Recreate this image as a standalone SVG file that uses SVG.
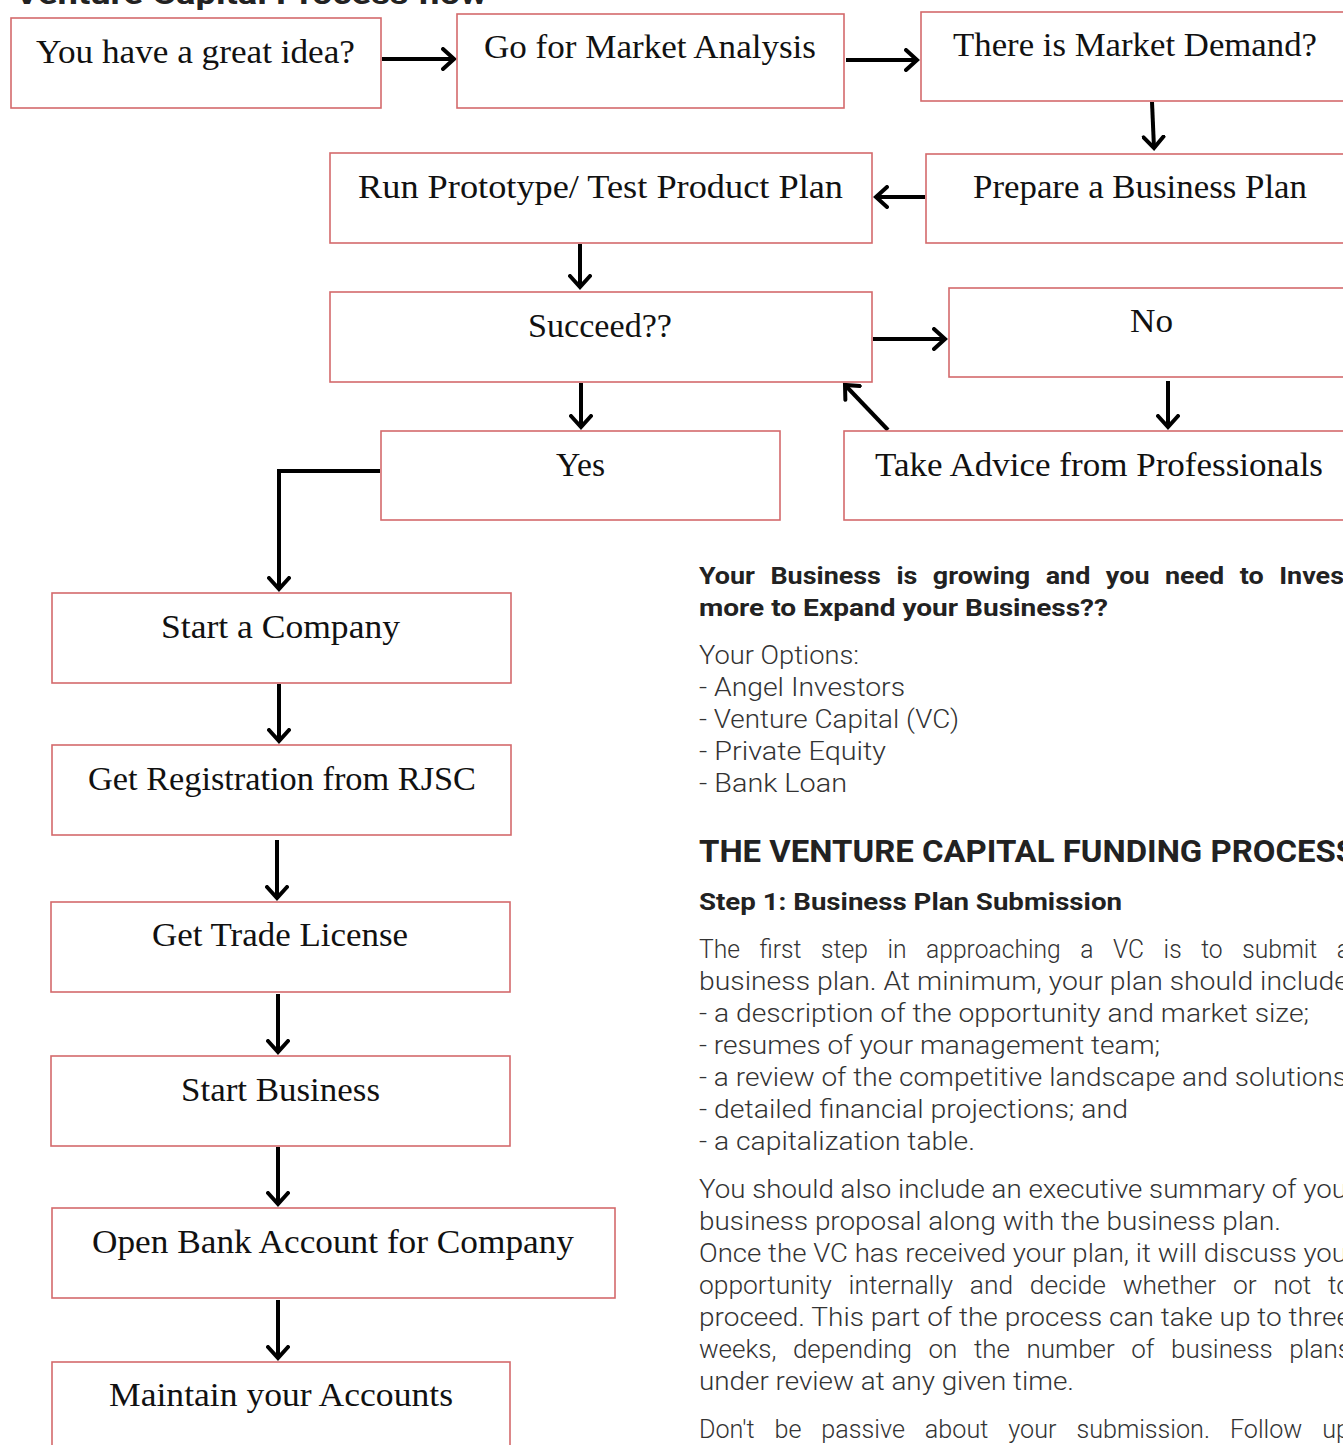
<svg xmlns="http://www.w3.org/2000/svg" width="1343" height="1445" viewBox="0 0 1343 1445">
<style>
.box{fill:#fff;stroke:#d46a6c;stroke-width:1.6}
.lbl{font-family:"Liberation Serif","Times New Roman",serif;font-size:34px;fill:#111}
.con{fill:none;stroke:#000;stroke-width:4}
.body{font-family:Roboto,"Liberation Sans",sans-serif;font-size:25.5px;fill:#333;font-weight:300}
.bold{font-family:Roboto,"Liberation Sans",sans-serif;font-weight:bold;fill:#222}
</style>
<defs>
<marker id="ah" viewBox="0 0 16 24" refX="13" refY="12" markerWidth="16" markerHeight="24" markerUnits="userSpaceOnUse" orient="auto">
<path d="M2,2 L13,12 L2,22" fill="none" stroke="#000" stroke-width="4" stroke-linecap="round" stroke-linejoin="miter"/>
</marker>
</defs>
<rect width="1343" height="1445" fill="#fff"/>
<text class="bold" x="15" y="4" font-size="30" textLength="472" lengthAdjust="spacingAndGlyphs">Venture Capital Process flow</text>

<g id="connectors">
<line class="con" x1="382" y1="59" x2="454" y2="59" marker-end="url(#ah)"/>
<line class="con" x1="846" y1="60" x2="917" y2="60" marker-end="url(#ah)"/>
<line class="con" x1="1152" y1="102" x2="1154" y2="148" marker-end="url(#ah)"/>
<line class="con" x1="925" y1="197" x2="876" y2="197" marker-end="url(#ah)"/>
<line class="con" x1="580" y1="244" x2="580" y2="287" marker-end="url(#ah)"/>
<line class="con" x1="873" y1="339" x2="945" y2="339" marker-end="url(#ah)"/>
<line class="con" x1="581" y1="383" x2="581" y2="427" marker-end="url(#ah)"/>
<line class="con" x1="1168" y1="381" x2="1168" y2="427" marker-end="url(#ah)"/>
<line class="con" x1="888" y1="430" x2="845" y2="385" marker-end="url(#ah)"/>
<polyline class="con" points="380,471 279,471 279,589" marker-end="url(#ah)"/>
<line class="con" x1="279" y1="684" x2="279" y2="741" marker-end="url(#ah)"/>
<line class="con" x1="277" y1="840" x2="277" y2="898" marker-end="url(#ah)"/>
<line class="con" x1="278" y1="994" x2="278" y2="1052" marker-end="url(#ah)"/>
<line class="con" x1="278" y1="1147" x2="278" y2="1204" marker-end="url(#ah)"/>
<line class="con" x1="278" y1="1300" x2="278" y2="1358" marker-end="url(#ah)"/>
</g>

<g id="n1"><rect class="box" x="11" y="18" width="370" height="90"/><text class="lbl" x="36" y="63" textLength="319" lengthAdjust="spacingAndGlyphs">You have a great idea?</text></g>
<g id="n2"><rect class="box" x="457" y="14" width="387" height="94"/><text class="lbl" x="484" y="58" textLength="332" lengthAdjust="spacingAndGlyphs">Go for Market Analysis</text></g>
<g id="n3"><rect class="box" x="921" y="12" width="430" height="89"/><text class="lbl" x="953" y="56" textLength="364" lengthAdjust="spacingAndGlyphs">There is Market Demand?</text></g>
<g id="n4"><rect class="box" x="926" y="154" width="425" height="89"/><text class="lbl" x="973" y="198" textLength="334" lengthAdjust="spacingAndGlyphs">Prepare a Business Plan</text></g>
<g id="n5"><rect class="box" x="330" y="153" width="542" height="90"/><text class="lbl" x="358" y="198" textLength="485" lengthAdjust="spacingAndGlyphs">Run Prototype/ Test Product Plan</text></g>
<g id="n6"><rect class="box" x="330" y="292" width="542" height="90"/><text class="lbl" x="528" y="337" textLength="144" lengthAdjust="spacingAndGlyphs">Succeed??</text></g>
<g id="n7"><rect class="box" x="949" y="288" width="402" height="89"/><text class="lbl" x="1130" y="332" textLength="43" lengthAdjust="spacingAndGlyphs">No</text></g>
<g id="n8"><rect class="box" x="844" y="431" width="507" height="89"/><text class="lbl" x="875" y="476" textLength="448" lengthAdjust="spacingAndGlyphs">Take Advice from Professionals</text></g>
<g id="n9"><rect class="box" x="381" y="431" width="399" height="89"/><text class="lbl" x="556" y="476" textLength="49" lengthAdjust="spacingAndGlyphs">Yes</text></g>
<g id="n10"><rect class="box" x="52" y="593" width="459" height="90"/><text class="lbl" x="161" y="638" textLength="239" lengthAdjust="spacingAndGlyphs">Start a Company</text></g>
<g id="n11"><rect class="box" x="52" y="745" width="459" height="90"/><text class="lbl" x="88" y="790" textLength="388" lengthAdjust="spacingAndGlyphs">Get Registration from RJSC</text></g>
<g id="n12"><rect class="box" x="51" y="902" width="459" height="90"/><text class="lbl" x="152" y="946" textLength="256" lengthAdjust="spacingAndGlyphs">Get Trade License</text></g>
<g id="n13"><rect class="box" x="51" y="1056" width="459" height="90"/><text class="lbl" x="181" y="1101" textLength="199" lengthAdjust="spacingAndGlyphs">Start Business</text></g>
<g id="n14"><rect class="box" x="52" y="1208" width="563" height="90"/><text class="lbl" x="92" y="1253" textLength="482" lengthAdjust="spacingAndGlyphs">Open Bank Account for Company</text></g>
<g id="n15"><rect class="box" x="52" y="1362" width="458" height="95"/><text class="lbl" x="109" y="1406" textLength="344" lengthAdjust="spacingAndGlyphs">Maintain your Accounts</text></g>

<g id="textcol">
<text class="bold" x="699" y="584" font-size="24.5" textLength="645" lengthAdjust="spacingAndGlyphs" word-spacing="8">Your Business is growing and you need to Inves</text>
<text class="bold" x="699" y="616" font-size="24.5" textLength="409" lengthAdjust="spacingAndGlyphs">more to Expand your Business??</text>
<text class="body" x="699" y="664" textLength="160" lengthAdjust="spacingAndGlyphs">Your Options:</text>
<text class="body" x="699" y="696" textLength="206" lengthAdjust="spacingAndGlyphs">- Angel Investors</text>
<text class="body" x="699" y="728" textLength="260" lengthAdjust="spacingAndGlyphs">- Venture Capital (VC)</text>
<text class="body" x="699" y="760" textLength="187" lengthAdjust="spacingAndGlyphs">- Private Equity</text>
<text class="body" x="699" y="792" textLength="148" lengthAdjust="spacingAndGlyphs">- Bank Loan</text>
<text class="bold" x="699" y="862" font-size="31" textLength="657" lengthAdjust="spacingAndGlyphs">THE VENTURE CAPITAL FUNDING PROCESS</text>
<text class="bold" x="699" y="910" font-size="24.5" textLength="423" lengthAdjust="spacingAndGlyphs">Step 1: Business Plan Submission</text>
<text class="body" x="699" y="958" textLength="651" lengthAdjust="spacingAndGlyphs" word-spacing="14">The first step in approaching a VC is to submit a</text>
<text class="body" x="699" y="990" textLength="650" lengthAdjust="spacingAndGlyphs">business plan. At minimum, your plan should include</text>
<text class="body" x="699" y="1022" textLength="610" lengthAdjust="spacingAndGlyphs">- a description of the opportunity and market size;</text>
<text class="body" x="699" y="1054" textLength="461" lengthAdjust="spacingAndGlyphs">- resumes of your management team;</text>
<text class="body" x="699" y="1086" textLength="648" lengthAdjust="spacingAndGlyphs">- a review of the competitive landscape and solutions</text>
<text class="body" x="699" y="1118" textLength="429" lengthAdjust="spacingAndGlyphs">- detailed financial projections; and</text>
<text class="body" x="699" y="1150" textLength="276" lengthAdjust="spacingAndGlyphs">- a capitalization table.</text>
<text class="body" x="699" y="1198" textLength="648" lengthAdjust="spacingAndGlyphs">You should also include an executive summary of you</text>
<text class="body" x="699" y="1230" textLength="582" lengthAdjust="spacingAndGlyphs">business proposal along with the business plan.</text>
<text class="body" x="699" y="1262" textLength="648" lengthAdjust="spacingAndGlyphs">Once the VC has received your plan, it will discuss you</text>
<text class="body" x="699" y="1294" textLength="652" lengthAdjust="spacingAndGlyphs" word-spacing="10">opportunity internally and decide whether or not to</text>
<text class="body" x="699" y="1326" textLength="652" lengthAdjust="spacingAndGlyphs">proceed. This part of the process can take up to three</text>
<text class="body" x="699" y="1358" textLength="652" lengthAdjust="spacingAndGlyphs" word-spacing="10">weeks, depending on the number of business plans</text>
<text class="body" x="699" y="1390" textLength="375" lengthAdjust="spacingAndGlyphs">under review at any given time.</text>
<text class="body" x="699" y="1438" textLength="651" lengthAdjust="spacingAndGlyphs" word-spacing="14">Don't be passive about your submission. Follow up</text>
</g>
</svg>
